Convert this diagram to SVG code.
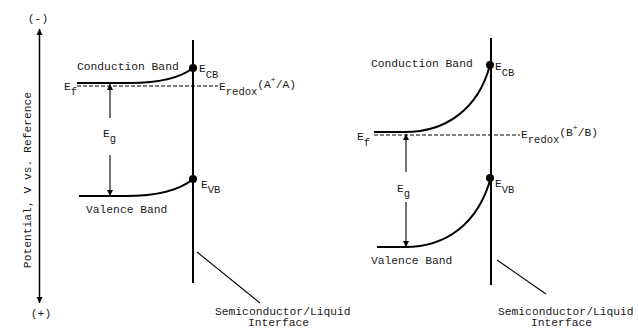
<svg xmlns="http://www.w3.org/2000/svg" width="638" height="328" viewBox="0 0 638 328">
<defs>
<style>
text{font-family:"Liberation Mono","DejaVu Sans Mono",monospace;font-size:11.3px;fill:#1a1a1a}
.sub{font-size:10.5px}
.sup{font-size:8px}
.band{fill:none;stroke:#000;stroke-width:2}
.iface{fill:none;stroke:#000;stroke-width:2}
.axis{fill:none;stroke:#000;stroke-width:1.5}
.thin{fill:none;stroke:#000;stroke-width:1.1}
.dash{fill:none;stroke:#000;stroke-width:1;stroke-dasharray:4 2}
.dot{fill:#000}
</style>
<marker id="ah" viewBox="0 0 10 10" refX="10" refY="5" markerWidth="6" markerHeight="9" markerUnits="userSpaceOnUse" orient="auto-start-reverse">
<path d="M0,0 L10,5 L0,10 Z" fill="#000"/>
</marker>
</defs>
<rect width="638" height="328" fill="#fff"/>

<g id="axis">
<line class="axis" x1="39.5" y1="29" x2="39.5" y2="303" marker-start="url(#ah)" marker-end="url(#ah)"/>
<text x="38" y="22" text-anchor="middle">(-)</text>
<text x="41" y="317" text-anchor="middle">(+)</text>
<text transform="translate(31,180) rotate(-90)" text-anchor="middle">Potential, V vs. Reference</text>
</g>

<g id="left-diagram">
<g id="left-interface">
<line class="iface" x1="193" y1="40" x2="193" y2="283"/>
<text x="215" y="315">Semiconductor/Liquid</text>
<text x="248" y="326">Interface</text>
</g>
<g id="left-cb">
<path class="band" d="M77,83 L130,83 C160,83 180,78 193,68"/>
<circle class="dot" cx="193" cy="68" r="4"/>
<text x="77" y="70">Conduction Band</text>
<text x="199" y="72">E<tspan class="sub" dy="6">CB</tspan></text>
</g>
<g id="left-vb">
<path class="band" d="M79,196 L125,196 C160,196 180,190 193,179"/>
<circle class="dot" cx="193" cy="179" r="4"/>
<text x="86" y="213">Valence Band</text>
<text x="201" y="188">E<tspan class="sub" dy="5">VB</tspan></text>
</g>
<g id="left-redox">
<line class="dash" x1="77" y1="86" x2="218" y2="86"/>
<text x="64" y="90">E<tspan class="sub" dy="5">f</tspan></text>
<text x="219" y="90">E<tspan class="sub" dy="5">redox</tspan><tspan dy="-7">(A</tspan><tspan class="sup" dy="-6">+</tspan><tspan dy="6">/A)</tspan></text>
</g>
<g id="left-eg">
<text x="103" y="137">E<tspan class="sub" dy="5">g</tspan></text>
</g>
</g>

<g id="right-diagram">
<g id="right-interface">
<line class="iface" x1="491" y1="38" x2="491" y2="285"/>
<text x="498" y="315">Semiconductor/Liquid</text>
<text x="531" y="326">Interface</text>
</g>
<g id="right-cb">
<path class="band" d="M374,132 L405,132 C445,132 478,110 490,65"/>
<circle class="dot" cx="490" cy="65" r="4"/>
<text x="371" y="67">Conduction Band</text>
<text x="495" y="70">E<tspan class="sub" dy="6">CB</tspan></text>
</g>
<g id="right-vb">
<path class="band" d="M377,247 L405,247 C445,247 478,225 491,177"/>
<circle class="dot" cx="490" cy="178" r="4"/>
<text x="371" y="264">Valence Band</text>
<text x="495" y="187">E<tspan class="sub" dy="6">VB</tspan></text>
</g>
<g id="right-redox">
<line class="dash" x1="374" y1="135" x2="520" y2="135"/>
<text x="357" y="140">E<tspan class="sub" dy="6">f</tspan></text>
<text x="521" y="138">E<tspan class="sub" dy="5">redox</tspan><tspan dy="-7">(B</tspan><tspan class="sup" dy="-6">+</tspan><tspan dy="6">/B)</tspan></text>
</g>
<g id="right-eg">
<text x="397" y="192">E<tspan class="sub" dy="5">g</tspan></text>
</g>
</g>

<g id="connectors">
<line class="thin" x1="110" y1="118" x2="110" y2="84" marker-end="url(#ah)"/>
<line class="thin" x1="110" y1="155" x2="110" y2="196" marker-end="url(#ah)"/>
<line class="thin" x1="406" y1="172" x2="406" y2="134" marker-end="url(#ah)"/>
<line class="thin" x1="406" y1="202" x2="406" y2="247" marker-end="url(#ah)"/>
<line class="thin" x1="197" y1="252" x2="260" y2="303"/>
<line class="thin" x1="497" y1="260" x2="546" y2="294"/>
</g>
</svg>
